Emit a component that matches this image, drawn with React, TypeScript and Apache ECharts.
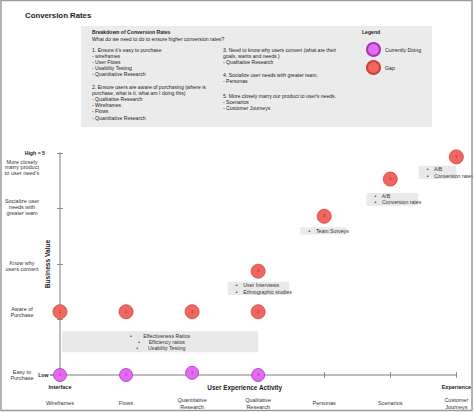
import React, { useEffect, useRef } from 'react';
import * as echarts from 'echarts';

const FONT = '"Liberation Sans", Arial, Helvetica, sans-serif';

// ---- data ----
const categories = ['Wireframes', 'Flows', 'Quantitative\nResearch', 'Qualitative\nResearch', 'Personas', 'Scenarios', 'Customer\nJourneys'];
const levelLabels = ['Easy to\nPurchase', 'Aware of\nPurchase', 'Know why\nusers convert', 'Socialize user\nneeds with\ngreater team', "More closely\nmarry product\nto user need's"];
const levelValues = [1, 2.14, 2.97, 4.03, 4.74];

const gapX = [0, 1, 2, 3, 3, 4, 5, 6];
const gapY = [2.14, 2.14, 2.14, 2.14, 2.87, 3.86, 4.53, 4.93];
const gapTags = ['2', '2', '2', '2', '3', '4', '5', '5'];

const doingX = [0, 1, 2, 3];
const doingY = [1, 1, 1.04, 1];
const doingTags = ['1', '1', '1', '3'];

const annX0 = [0.03, 2.54, 3.64, 4.64, 5.43];
const annX1 = [3.0, 3.47, 4.34, 5.42, 6.2];
const annY0 = [1.41, 2.44, 3.53, 4.05, 4.53];
const annY1 = [1.79, 2.68, 3.66, 4.28, 4.77];
const annText = [
  '•        Effectiveness Ratios\n  •      Efficiency ratios\n •       Usability Testing',
  '•    User Interviews\n•    Ethnographic studies',
  '•    Team Surveys',
  '•    A/B\n•    Conversion rates',
  '•    A/B\n•    Conversion rates',
];
const annCentered = [true, false, false, false, false];

const boxTitle = 'Breakdown of Conversion Rates';
const boxQuestion = 'What do we need to do to ensure higher conversion rates?';
const boxLeft1 = ["1. Ensure it's easy to purchase", '- wireframes', '- User Flows', '- Usability Testing', '- Quantitative Research'];
const boxLeft2 = ['2. Ensure users are aware of purchasing (where is', 'purchase, what is it, what am I doing this)', '- Qualitative Research', '- Wireframes', '- Flows', '- Quantitative Research'];
const boxRight1 = ['3. Need to know why users convert (what are their', 'goals, wants and needs.)', '- Qualitative Research'];
const boxRight2 = ['4. Socialize user needs with greater team.', '- Personas'];
const boxRight3 = ["5. More closely marry our product to user's needs.", '- Scenarios', '- Customer Journeys'];

const RED = '#f3665f';
const RED_B = '#c8433d';
const PURPLE = '#e46af3';
const PURPLE_B = '#a535b8';
const AXIS = '#a9a9a9';

function txt(x: number, y: number, lines: string[], bold = false, size = 5.1) {
  return {
    type: 'text', x, y, z: 10,
    style: {
      text: lines.join('\n'), fill: '#222', fontFamily: FONT, fontSize: size,
      fontWeight: bold ? 'bold' : 'normal', lineHeight: 6.1, verticalAlign: 'top', align: 'left',
    },
  };
}

export default function App() {
  const ref = useRef<HTMLDivElement>(null);
  useEffect(() => {
    const chart = echarts.init(ref.current!, null, { renderer: 'svg' });
    const option: any = {
      animation: false,
      backgroundColor: '#fff',
      textStyle: { fontFamily: FONT, color: '#222' },
      title: {
        text: 'Conversion Rates', left: 20, top: 6,
        textStyle: { fontSize: 7.8, fontWeight: 'bold', color: '#222', fontFamily: FONT },
      },
      legend: {
        data: ['Currently Doing', 'Gap'], orient: 'vertical', left: 361, top: 37,
        itemWidth: 13, itemHeight: 13, itemGap: 3,
        textStyle: { fontSize: 5.2, color: '#222', fontFamily: FONT },
      },
      grid: { left: 60, right: 13, top: 153, bottom: 37 },
      xAxis: [
        {
          type: 'value', min: 0, max: 6, interval: 1,
          axisLine: { show: true, lineStyle: { color: AXIS, width: 1.5 } },
          axisTick: { show: true, length: 3, lineStyle: { color: '#777', width: 0.8 } },
          splitLine: { show: false },
          axisLabel: {
            formatter: (v: number) => categories[v] ?? '', margin: 28, verticalAlign: 'middle',
            fontSize: 5.5, lineHeight: 7, color: '#333', align: 'center',
          },
        },
        {
          type: 'value', min: 0, max: 6, interval: 1, position: 'bottom',
          axisLine: { show: false },
          axisTick: { show: true, inside: true, length: 3, lineStyle: { color: '#777', width: 0.8 } },
          splitLine: { show: false },
          axisLabel: {
            formatter: (v: number) => (v === 0 ? 'Interface' : v === 6 ? 'Experience' : ''),
            margin: 12, verticalAlign: 'middle', fontSize: 5.5, fontWeight: 'bold', color: '#222',
          },
          name: 'User Experience Activity', nameLocation: 'middle', nameGap: 12, nameMoveOverlap: false,
          nameTextStyle: { fontSize: 6.4, fontWeight: 'bold', color: '#222', verticalAlign: 'middle', padding: [0, 27, 0, 0] },
        },
      ],
      yAxis: [
        {
          type: 'value', min: 1, max: 5, interval: 1,
          axisLine: { show: true, lineStyle: { color: AXIS, width: 1.5 } },
          axisTick: { show: true, length: 3, lineStyle: { color: '#777', width: 0.8 } },
          splitLine: { show: false },
          axisLabel: {
            customValues: [1, 5],
            formatter: (v: number) => (v >= 5 ? '{h|High = 5}' : '{l|Low =}'),
            margin: 7,
            rich: {
              h: { fontSize: 5.2, fontWeight: 'bold', color: '#222', padding: [0, 8, 0, 0] },
              l: { fontSize: 5.2, fontWeight: 'bold', color: '#222' },
            },
          },
          name: 'Business Value', nameLocation: 'middle', nameGap: 9, nameRotate: 90, nameMoveOverlap: false,
          nameTextStyle: { fontSize: 6.6, fontWeight: 'bold', color: '#222' },
        },
        {
          type: 'value', min: 1, max: 5, interval: 1, position: 'left',
          axisLine: { show: false },
          axisTick: { show: true, inside: true, length: 3, lineStyle: { color: '#777', width: 0.8 } },
          splitLine: { show: false },
          axisLabel: {
            customValues: levelValues,
            formatter: (v: number) => {
              const i = levelValues.findIndex((x) => Math.abs(x - v) < 1e-6);
              return i >= 0 ? levelLabels[i] : '';
            },
            margin: 38, align: 'center', fontSize: 5.5, lineHeight: 5.8, color: '#333',
          },
        },
      ],
      series: [
        {
          name: 'Gap', type: 'scatter', xAxisIndex: 0, yAxisIndex: 0, symbolSize: 14, z: 5,
          itemStyle: { color: RED, borderColor: RED_B, borderWidth: 0.8, opacity: 1 },
          data: gapX.map((x, i) => [x, gapY[i]]),
          label: {
            show: true, position: 'inside', fontSize: 3.5, color: '#333',
            formatter: (p: any) => gapTags[p.dataIndex],
          },
          markArea: {
            silent: true, z: 1,
            itemStyle: { color: '#e9e9e9', opacity: 1 },
            data: annX0.map((x0, i) => [
              {
                xAxis: x0, yAxis: annY1[i], name: annText[i],
                label: {
                  show: true,
                  position: annCentered[i] ? 'inside' : 'insideLeft',
                  align: annCentered[i] ? 'center' : 'left',
                  padding: annCentered[i] ? 0 : [0, 0, 0, 3],
                  fontSize: 5.2, lineHeight: 6.2, color: '#333', fontFamily: FONT,
                },
              },
              { xAxis: annX1[i], yAxis: annY0[i] },
            ]),
          },
        },
        {
          name: 'Currently Doing', type: 'scatter', xAxisIndex: 0, yAxisIndex: 0, symbolSize: 13, z: 5,
          itemStyle: { color: PURPLE, borderColor: PURPLE_B, borderWidth: 0.8, opacity: 1 },
          data: doingX.map((x, i) => [x, doingY[i]]),
          label: {
            show: true, position: 'inside', fontSize: 3.5, color: '#333',
            formatter: (p: any) => doingTags[p.dataIndex],
          },
        },
      ],
      graphic: [
        { type: 'rect', z: -10, shape: { x: 81, y: 26, width: 351, height: 101 }, style: { fill: '#ebebeb' } },
        txt(92, 28.5, [boxTitle], true, 5.1),
        txt(92, 36, [boxQuestion]),
        txt(92, 47, boxLeft1),
        txt(92, 84, boxLeft2),
        txt(223, 47, boxRight1),
        txt(223, 72, boxRight2),
        txt(223, 93, boxRight3),
        txt(362, 29, ['Legend'], true, 5.1),
        { type: 'rect', z: 100, shape: { x: 1, y: 0.5, width: 471, height: 410 }, style: { fill: 'none', stroke: '#9a9a9a', lineWidth: 1.5 } },
      ],
    };
    chart.setOption(option);
    return () => chart.dispose();
  }, []);
  return <div ref={ref} style={{ position: 'fixed', left: 0, top: 0, width: 474, height: 412, background: '#fff' }} />;
}
